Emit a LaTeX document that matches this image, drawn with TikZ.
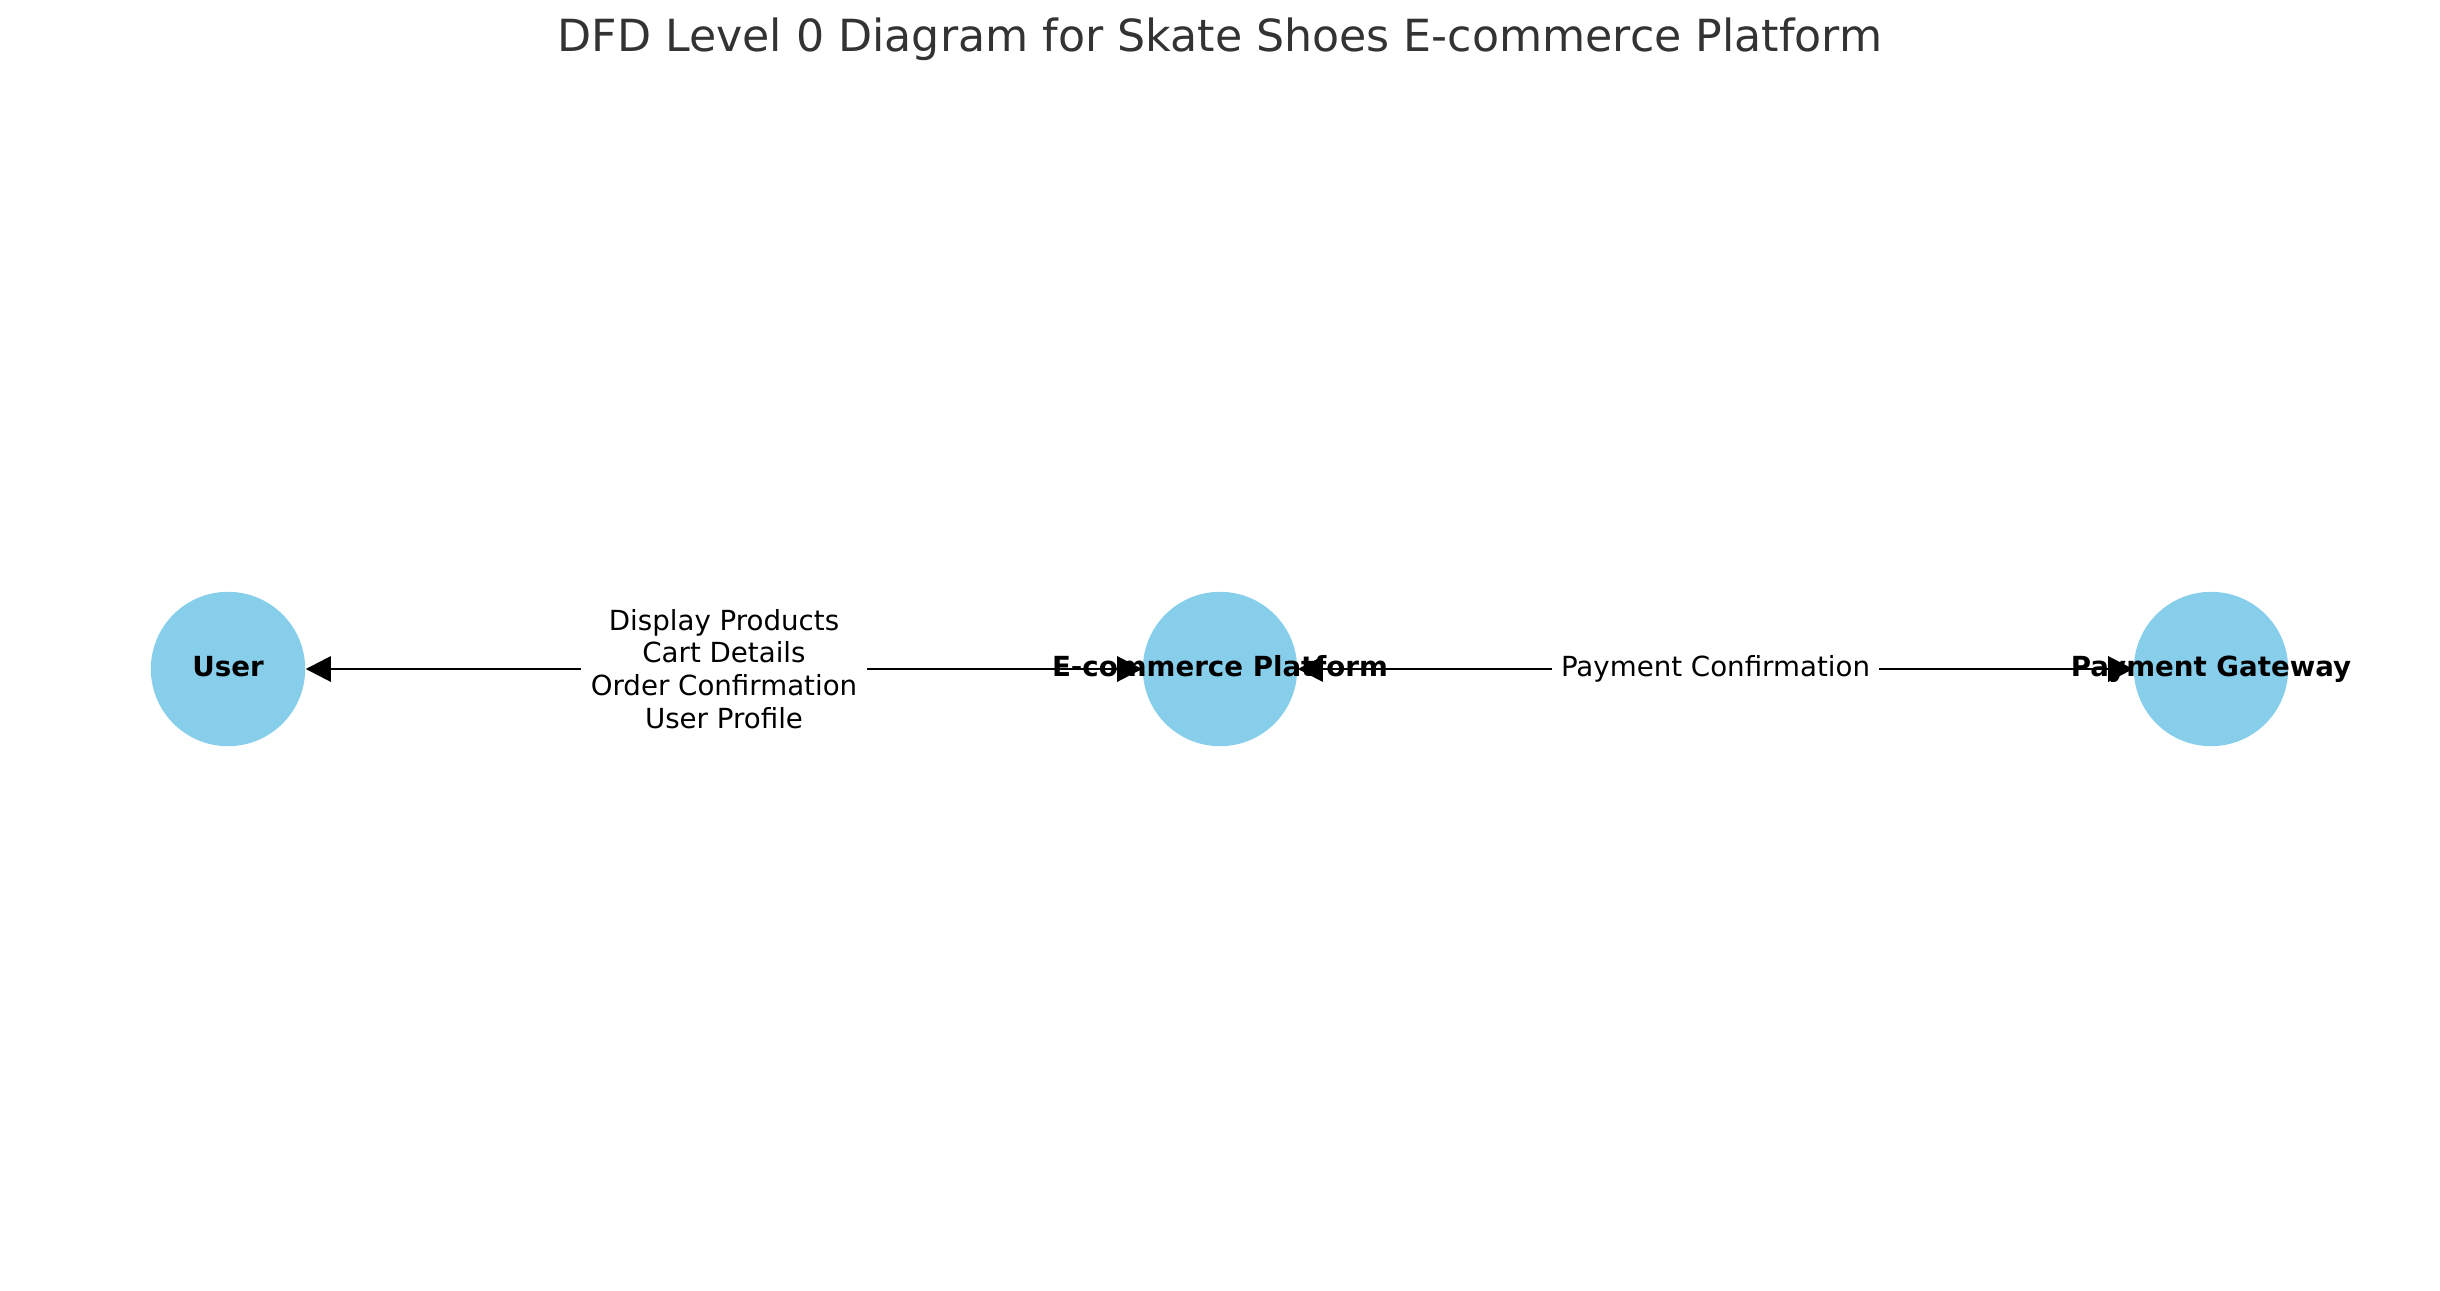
\documentclass[tikz,border=0pt]{standalone}
\usepackage{fontspec}
\setmainfont{DejaVu Sans}
\usepackage{tikz}
\usetikzlibrary{arrows.meta, positioning}
\definecolor{skyblue}{RGB}{135,206,235}
\definecolor{titlegray}{RGB}{51,51,51}
\tikzset{
>={Triangle[length=3.2mm, width=3.2mm]}, % filled arrow heads
process/.style={circle, fill=skyblue, minimum size=19.6mm, inner sep=0pt}, % sets the properties for each process/entity
nodetext/.style={font=\fontsize{10}{12}\selectfont\bfseries, inner sep=0pt, text height=0.76em, text depth=0.24em},
flow/.style={<->, line width=1pt, black}, % data flows in both directions
flowlabel/.style={fill=white, align=center, inner xsep=1.2mm, inner ysep=0.5mm, font=\fontsize{10}{11.8}\selectfont},
}

\begin{document}
\begin{tikzpicture}[x=0.127mm, y=-0.127mm]
      \useasboundingbox (0,0) rectangle (2440,1290);
      \node[font=\fontsize{16}{19}\selectfont, text=titlegray] (title) at (1220,39) {DFD Level 0 Diagram for Skate Shoes E-commerce Platform};

      \node[process] (user) at (228,669) {};
      \node[process] (ecom) at (1220,669) {};
      \node[process] (pay) at (2211,669) {};

      \draw[flow] (user) -- node[flowlabel] (userflow) {Display Products\\Cart Details\\Order Confirmation\\User Profile} (ecom);
      \draw[flow] (ecom) -- node[flowlabel, text height=0.76em, text depth=0.24em] (payflow) {Payment Confirmation} (pay);

      \node[nodetext] (user-t) at (user) {User};
      \node[nodetext] (ecom-t) at (ecom) {E-commerce Platform};
      \node[nodetext] (pay-t) at (pay) {Payment Gateway};
    \end{tikzpicture}
\end{document}
